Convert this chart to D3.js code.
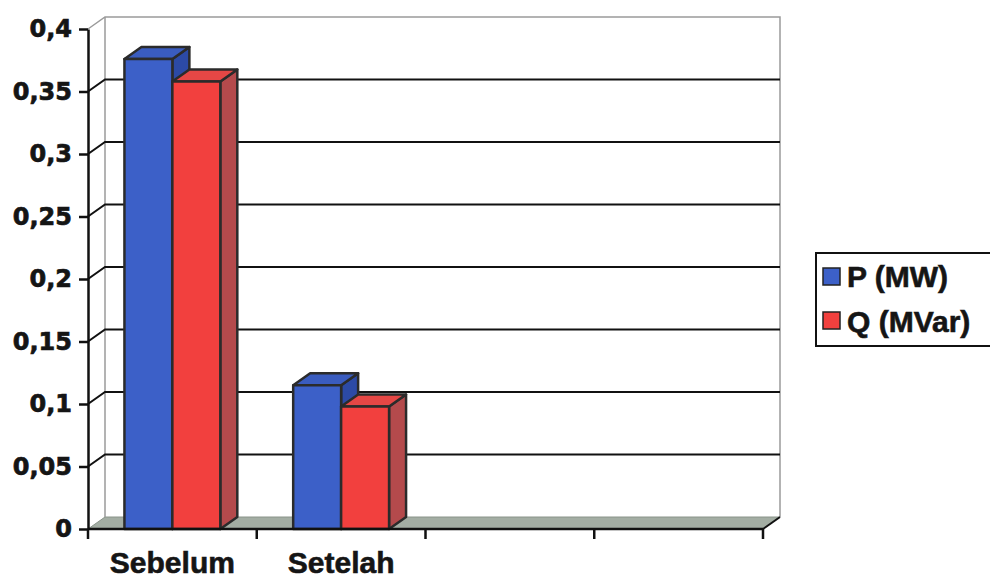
<!DOCTYPE html>
<html>
<head>
<meta charset="utf-8">
<script src="https://cdn.jsdelivr.net/npm/d3@7"></script>
<style>
  body { margin: 0; background: #fff; }
  svg { display: block; }
</style>
</head>
<body>
<div id="chart"></div>
<script>
const categories = ["Sebelum", "Setelah", "", ""];
const series = ["P (MW)", "Q (MVar)"];
const pValues = [0.376, 0.115];
const qValues = [0.358, 0.098];
const yTicks = [0, 0.05, 0.1, 0.15, 0.2, 0.25, 0.3, 0.35, 0.4];

const data = categories.slice(0, 2).map((c, i) => ({ cat: c, vals: [pValues[i], qValues[i]] }));

const W = 990, H = 578;
const plotLeft = 88, plotRight = 763, plotTop = 29, plotBottom = 529;
const dx = 17, dy = -12;   // depth offset of the 3d box

const svg = d3.select("#chart").append("svg")
  .attr("width", W)
  .attr("height", H);

const x0 = d3.scaleBand().domain(categories.map((c, i) => i)).range([plotLeft, plotRight]).padding(0);
const x1 = d3.scaleBand().domain(series).range([0, x0.bandwidth()]).paddingInner(0).paddingOuter(0.76);
const y = d3.scaleLinear().domain([0, 0.4]).range([plotBottom, plotTop]);

const faces = {
  "P (MW)":   { front: "#3c60c8", top: "#3a5cbf", side: "#2c4aa6" },
  "Q (MVar)": { front: "#f2403e", top: "#e54745", side: "#b44a4c" }
};

// walls and floor
const pts = a => a.map(p => p.join(",")).join(" ");
svg.append("polygon")
  .attr("points", pts([[plotLeft, plotBottom], [plotRight, plotBottom], [plotRight + dx, plotBottom + dy], [plotLeft + dx, plotBottom + dy]]))
  .attr("fill", "#a3ada3")
  .attr("stroke", "#8a948a");

const wall = svg.append("g").attr("stroke", "#9a9a9a").attr("stroke-width", 1.5).attr("fill", "none");
wall.append("polyline")
  .attr("points", pts([[plotLeft, plotTop], [plotLeft + dx, plotTop + dy], [plotRight + dx, plotTop + dy], [plotRight + dx, plotBottom + dy]]));
wall.append("line")
  .attr("x1", plotLeft + dx).attr("x2", plotLeft + dx)
  .attr("y1", plotTop + dy).attr("y2", plotBottom + dy);

// gridlines: back wall + left wall diagonal
const grid = svg.append("g").attr("stroke", "#111").attr("stroke-width", 2);
yTicks.filter(v => v > 0 && v < 0.4).forEach(v => {
  grid.append("polyline")
    .attr("fill", "none")
    .attr("points", pts([[plotLeft, y(v)], [plotLeft + dx, y(v) + dy], [plotRight + dx, y(v) + dy]]));
});

// bars
data.forEach((d, i) => {
  const g = svg.append("g").attr("stroke", "#2b2b2b").attr("stroke-width", 2.5).attr("stroke-linejoin", "round");
  series.forEach((s, j) => {
    const xa = x0(i) + x1(s), xb = xa + x1.bandwidth();
    const yt = y(d.vals[j]);
    g.append("polygon")
      .attr("fill", faces[s].side)
      .attr("points", pts([[xb, plotBottom], [xb + dx, plotBottom + dy], [xb + dx, yt + dy], [xb, yt]]));
    g.append("polygon")
      .attr("fill", faces[s].top)
      .attr("points", pts([[xa, yt], [xb, yt], [xb + dx, yt + dy], [xa + dx, yt + dy]]));
    g.append("rect")
      .attr("fill", faces[s].front)
      .attr("x", xa).attr("y", yt)
      .attr("width", xb - xa).attr("height", plotBottom - yt);
  });
});

// y axis
const fmt = v => String(v).replace(".", ",");
const yAxis = svg.append("g")
  .attr("transform", `translate(${plotLeft},0)`)
  .call(d3.axisLeft(y).tickValues(yTicks).tickFormat(fmt).tickSize(9).tickSizeOuter(0).tickPadding(7));
yAxis.select(".domain").attr("stroke", "#111").attr("stroke-width", 2.5);
yAxis.selectAll(".tick line").attr("stroke", "#111").attr("stroke-width", 2.5);
yAxis.selectAll(".tick text")
  .attr("fill", "#151515")
  .attr("stroke", "#151515")
  .attr("stroke-width", 0.7)
  .style("font-family", "'DejaVu Sans', sans-serif")
  .style("font-weight", "bold")
  .style("font-size", "24px");

// x axis
const xAxis = svg.append("g");
xAxis.append("line")
  .attr("x1", plotLeft).attr("x2", plotRight)
  .attr("y1", plotBottom).attr("y2", plotBottom)
  .attr("stroke", "#111").attr("stroke-width", 2.5);
xAxis.append("line")
  .attr("x1", plotRight).attr("x2", plotRight + dx)
  .attr("y1", plotBottom).attr("y2", plotBottom + dy)
  .attr("stroke", "#111").attr("stroke-width", 2);
categories.map((c, i) => x0(i)).concat([plotRight]).forEach(xv => {
  xAxis.append("line")
    .attr("x1", xv).attr("x2", xv)
    .attr("y1", plotBottom).attr("y2", plotBottom + 10)
    .attr("stroke", "#111").attr("stroke-width", 2.5);
});
categories.forEach((c, i) => {
  xAxis.append("text")
    .attr("x", x0(i) + x0.bandwidth() / 2)
    .attr("y", 573)
    .attr("text-anchor", "middle")
    .attr("fill", "#151515")
    .attr("stroke", "#151515")
    .attr("stroke-width", 0.6)
    .style("font-family", "'Liberation Sans', Arial, sans-serif")
    .style("font-weight", "bold")
    .style("font-size", "30px")
    .text(c);
});

// legend
const legend = svg.append("g").attr("transform", "translate(816,253)");
legend.append("rect")
  .attr("width", 200).attr("height", 93)
  .attr("fill", "#fff").attr("stroke", "#111").attr("stroke-width", 2);
series.forEach((s, j) => {
  legend.append("rect")
    .attr("x", 7).attr("y", 15 + j * 44)
    .attr("width", 17).attr("height", 17)
    .attr("fill", faces[s].front)
    .attr("stroke", "#222").attr("stroke-width", 1.5);
  legend.append("text")
    .attr("x", 31).attr("y", 34 + j * 45)
    .attr("fill", "#151515")
    .attr("stroke", "#151515")
    .attr("stroke-width", 0.6)
    .style("font-family", "'Liberation Sans', Arial, sans-serif")
    .style("font-weight", "bold")
    .style("font-size", "30px")
    .text(s);
});
</script>
</body>
</html>
